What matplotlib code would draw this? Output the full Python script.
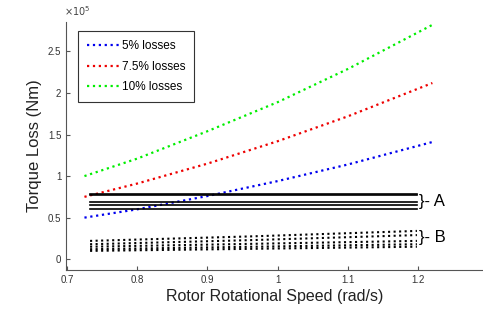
import numpy as np
import matplotlib.pyplot as plt
import matplotlib.ticker as ticker

plt.rcParams['font.family'] = ['Liberation Sans', 'DejaVu Sans']

# rotor speed (rad/s) and torque loss (Nm)
speed = [0.725, 0.8, 0.9, 1.0, 1.1, 1.22]
loss_5 = [0.50e5, 0.60e5, 0.76e5, 0.94e5, 1.14e5, 1.41e5]
loss_75 = [0.75e5, 0.91e5, 1.15e5, 1.42e5, 1.72e5, 2.12e5]
loss_10 = [1.00e5, 1.21e5, 1.54e5, 1.89e5, 2.29e5, 2.82e5]

# group A (solid) and group B (dotted) curves
grp_speed = [0.733, 0.965, 1.198]
grp_A = [
    [0.785e5, 0.785e5, 0.785e5],
    [0.775e5, 0.775e5, 0.775e5],
    [0.69e5, 0.69e5, 0.69e5],
    [0.655e5, 0.655e5, 0.655e5],
    [0.60e5, 0.60e5, 0.60e5],
]
grp_B = [
    [0.22e5, 0.275e5, 0.34e5],
    [0.18e5, 0.23e5, 0.29e5],
    [0.15e5, 0.185e5, 0.22e5],
    [0.12e5, 0.15e5, 0.18e5],
    [0.10e5, 0.125e5, 0.15e5],
]

fig = plt.figure(figsize=(4.83, 3.18), dpi=100)
ax = fig.add_axes([0.137, 0.151, 0.863, 0.780])

ax.plot(speed, loss_5, ':', color='#0000ee', lw=1.6, label='5% losses')
ax.plot(speed, loss_75, ':', color='#ee0000', lw=1.6, label='7.5% losses')
ax.plot(speed, loss_10, ':', color='#00ee00', lw=1.6, label='10% losses')

for i, y in enumerate(grp_A):
    ax.plot(grp_speed, y, '-', color='k', lw=1.2)
for y in grp_B:
    ax.plot(grp_speed, y, ':', color='k', lw=1.5)

ax.text(1.201, 0.70e5, '}- A', fontsize=12, va='center', ha='left')
ax.text(1.201, 0.255e5, '}- B', fontsize=12, va='center', ha='left')

ax.set_xlim(0.699, 1.292)
ax.set_ylim(-0.13e5, 2.855e5)
ax.set_xticks([0.7, 0.8, 0.9, 1.0, 1.1, 1.2])
ax.xaxis.set_major_formatter(ticker.FuncFormatter(lambda v, p: f'{v:g}'))
ax.set_yticks([0, 0.5e5, 1e5, 1.5e5, 2e5, 2.5e5])
ax.yaxis.set_major_formatter(ticker.FuncFormatter(lambda v, p: f'{v/1e5:g}'))
ax.text(-0.005, 1.015, r'$\times10^5$', transform=ax.transAxes, fontsize=7,
        color='#444444', ha='left', va='bottom')

gray = '#555555'
for s in ['top', 'right']:
    ax.spines[s].set_visible(False)
for s in ['left', 'bottom']:
    ax.spines[s].set_color(gray)
    ax.spines[s].set_linewidth(0.8)
ax.tick_params(direction='in', length=3, width=0.8, colors=gray,
               labelsize=7, labelcolor='#333333')

ax.set_xlabel('Rotor Rotational Speed (rad/s)', fontsize=11.5, color='#222222', labelpad=3)
ax.set_ylabel('Torque Loss (Nm)', fontsize=12, color='#222222', labelpad=4)

leg = ax.legend(loc='upper left', bbox_to_anchor=(0.028, 0.962), fontsize=8.5,
                fancybox=False, edgecolor='#333333', framealpha=1,
                handlelength=2.7, borderpad=0.75, labelspacing=0.72, handletextpad=0.3,
                borderaxespad=0)
leg.get_frame().set_linewidth(0.8)

fig.savefig('out.png', dpi=100)
